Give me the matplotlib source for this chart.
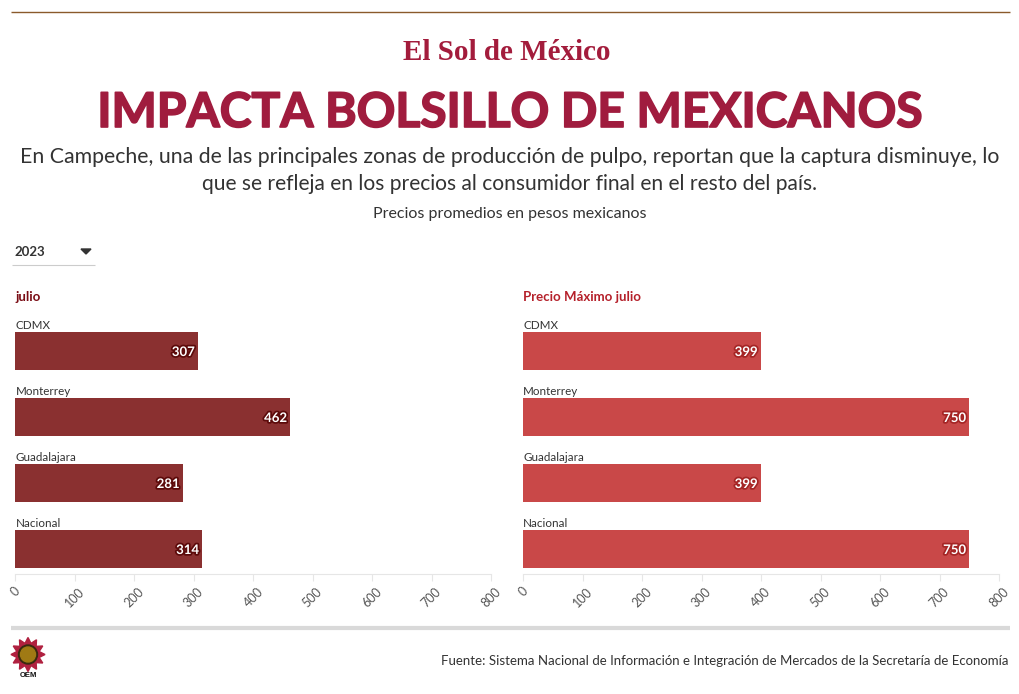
import numpy as np
import matplotlib
matplotlib.use("Agg")
import matplotlib.pyplot as plt
import matplotlib.patheffects as pe
from matplotlib.patches import Polygon, Circle

categories = ["CDMX", "Monterrey", "Guadalajara", "Nacional"]
julio = [307, 462, 281, 314]
maximo = [399, 750, 399, 750]
ticks = [0, 100, 200, 300, 400, 500, 600, 700, 800]

W, H = 1020, 694
plt.rcParams["font.family"] = ["Lato", "DejaVu Sans"]
fig = plt.figure(figsize=(W / 100, H / 100), dpi=100, facecolor="white")

# decoration layer in pixel coordinates
deco = fig.add_axes([0, 0, 1, 1])
deco.set_xlim(0, W)
deco.set_ylim(H, 0)
deco.axis("off")

def txt(x, y, s, **kw):
    return deco.text(x, y, s, **kw)

def hline(x0, x1, y, color, lw):
    deco.plot([x0, x1], [y, y], color=color, lw=lw, solid_capstyle="butt")

hline(11, 1010, 11.5, "#8a5a2b", 1.0)
hline(11, 1010, 628, "#d9d9d9", 3.0)
hline(12, 95, 264.5, "#cccccc", 0.8)

txt(507, 52, "El Sol de México", ha="center", va="center", fontsize=21, color="#a31c3c",
    family=["Liberation Serif"], fontweight="bold")
txt(510, 113, "IMPACTA BOLSILLO DE MEXICANOS", ha="center", va="center", fontsize=34.5,
    color="#a01c3e", fontweight="bold",
    path_effects=[pe.withStroke(linewidth=1.2, foreground="#a01c3e")])
txt(510, 157, "En Campeche, una de las principales zonas de producción de pulpo, reportan que la captura disminuye, lo",
    ha="center", va="center", fontsize=15.35, color="#333333")
txt(510, 184, "que se refleja en los precios al consumidor final en el resto del país.",
    ha="center", va="center", fontsize=15.17, color="#333333")
txt(510, 214, "Precios promedios en pesos mexicanos", ha="center", va="center", fontsize=11.5, color="#333333")
txt(14, 252, "2023", ha="left", va="center", fontsize=9.5, fontweight="bold", color="#333333")
deco.add_patch(Polygon([(81, 249), (91, 249), (86, 254)], closed=True, color="#333333"))
txt(1009, 661, "Fuente: Sistema Nacional de Información e Integración de Mercados de la Secretaría de Economía",
    ha="right", va="center", fontsize=9.53, color="#333333")

# logo
spikes = 12
angles = np.linspace(0, 2 * np.pi, spikes * 2, endpoint=False)
radii = np.where(np.arange(spikes * 2) % 2 == 0, 17, 11.5)
deco.add_patch(Polygon(np.column_stack([28 + radii * np.cos(angles), 654.5 + radii * np.sin(angles)]),
                       closed=True, color="#b0203f"))
deco.add_patch(Circle((28, 654.5), 9.5, color="#3a2a10"))
deco.add_patch(Circle((28, 654.5), 7.5, color="#a07a14"))
txt(28, 675.5, "OEM", ha="center", va="center", fontsize=5.5, fontweight="bold", color="#111111",
    family=["Liberation Sans"])

def panel(x0, x1, values, color, edge, title, tcolor):
    ax = fig.add_axes([x0 / W, 1 - 574 / H, (x1 - x0) / W, (574 - 318) / H])
    ax.barh(range(len(categories)), values, height=38 / 66, color=color, zorder=2)
    ax.set_xlim(0, 800)
    ax.set_ylim(3.379, -0.5)
    ax.set_yticks([])
    ax.set_xticks(ticks)
    ax.set_xticklabels([str(t) for t in ticks], rotation=45, ha="center", va="top",
                       fontsize=9, color="#555555")
    ax.tick_params(axis="x", length=5, width=0.8, color="#e6e6e6", pad=3)
    for s in ["top", "left", "right"]:
        ax.spines[s].set_visible(False)
    ax.spines["bottom"].set_color("#e6e6e6")
    ax.patch.set_alpha(0)
    for i, (c, v) in enumerate(zip(categories, values)):
        ax.annotate(c, (0, i), xytext=(0, 20), textcoords="offset pixels", ha="left", va="bottom",
                    fontsize=8.4, color="#333333")
        ax.annotate(str(v), (v, i), xytext=(-3, -1), textcoords="offset pixels", ha="right", va="center",
                    fontsize=9.5, fontweight="bold", color="white",
                    path_effects=[pe.withStroke(linewidth=2.5, foreground=edge)])
    txt(x0, 297, title, ha="left", va="center", fontsize=9.5, fontweight="bold", color=tcolor)

panel(15.5, 491, julio, "#8a3030", "#5c0a0a", "julio", "#7a0c14")
panel(523.3, 999, maximo, "#c94848", "#a52525", "Precio Máximo julio", "#b5202a")

fig.savefig("out.png", dpi=100, facecolor="white")
